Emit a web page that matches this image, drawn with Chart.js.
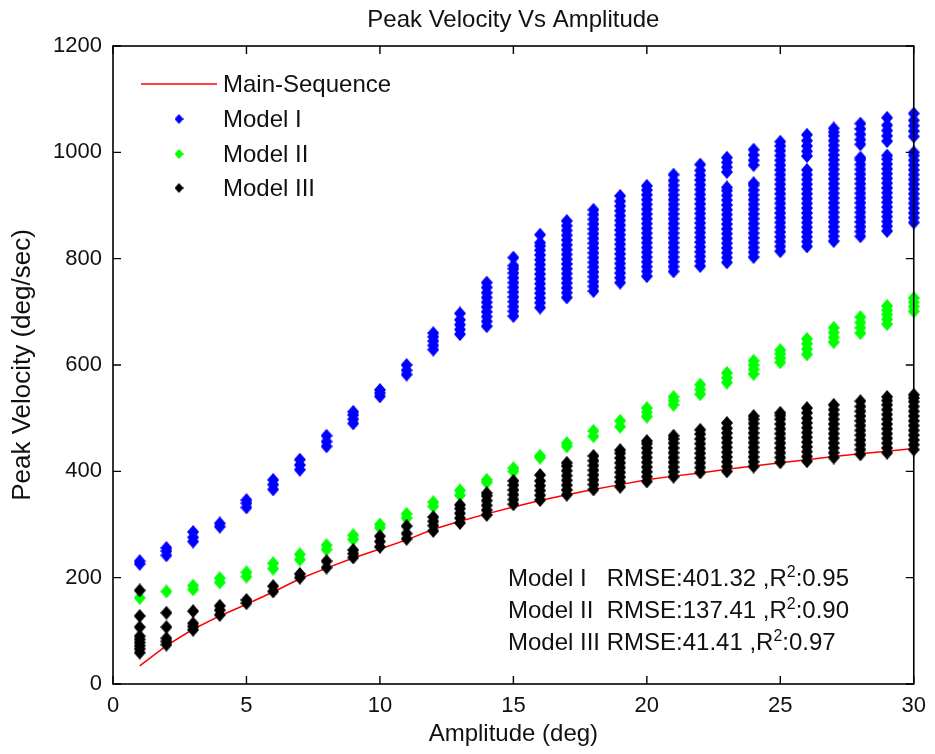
<!DOCTYPE html>
<html><head><meta charset="utf-8">
<script src="https://cdn.jsdelivr.net/npm/chart.js@4.4.1/dist/chart.umd.min.js"></script>
<style>html,body{margin:0;padding:0;background:#fff}#wrap{width:935px;height:754px}</style>
</head><body><div id="wrap"><canvas id="c" width="935" height="754"></canvas></div>
<script>
// ---- data ----
const amplitude = [1,2,3,4,5,6,7,8,9,10,11,12,13,14,15,16,17,18,19,20,21,22,23,24,25,26,27,28,29,30];
const mainSequence = [34,72,103,128,150,173,198,218,237,254,271,291,306,320,333,345,356,366,375,384,391,397,404,410,416,422,428,433,438,443];
const modelI = [
  [226,231],
  [242,250,256],
  [268,276,286],
  [296,302],
  [332,340,346],
  [366,375,384],
  [403,412,422],
  [447,456,467],
  [490,498,506,512],
  [541,547,553],
  [582,590,600],
  [629,637,645,653,660],
  [658,667,676,685,697],
  [673,682,691,700,709,718,727,736,746,755],
  [692,701,710,719,728,737,746,755,764,773,781,787,802],
  [708,717,726,735,744,753,762,771,780,789,798,807,816,824,830,845],
  [727,736,745,754,763,772,781,790,799,808,817,826,835,844,853,862,871],
  [739,748,757,766,775,784,793,802,811,820,829,838,847,856,865,874,883,892],
  [755,764,773,782,791,800,809,818,827,836,845,854,863,872,881,890,899,908,918],
  [767,776,785,794,803,812,821,830,839,848,857,866,875,884,893,902,911,920,929,937],
  [776,785,794,803,812,821,830,839,848,857,866,875,884,893,902,911,920,929,938,947,958],
  [786,795,804,813,822,831,840,849,858,867,876,885,894,903,912,921,930,939,948,957,966,977],
  [793,802,811,820,829,838,847,856,865,874,883,892,901,910,919,928,934,963,972,981,990],
  [803,812,821,830,839,848,857,866,875,884,893,902,911,920,929,938,942,976,985,995,1005],
  [814,823,832,841,850,859,868,877,886,895,904,913,922,931,940,949,958,967,976,985,994,1003,1012,1020],
  [823,832,841,850,859,868,877,886,895,904,913,922,931,940,949,958,967,993,1002,1012,1022,1033],
  [833,842,851,860,869,878,887,896,905,914,923,932,941,950,959,968,977,986,995,1004,1013,1022,1031,1038,1045],
  [842,851,860,869,878,887,896,905,914,923,932,941,950,959,968,977,986,990,1015,1024,1034,1044,1054],
  [852,861,870,879,888,897,906,915,924,933,942,951,960,969,978,987,994,1021,1031,1041,1051,1065],
  [868,877,886,895,904,913,922,931,940,949,958,967,976,985,994,1000,1030,1040,1050,1060,1073]
];
const modelII = [
  [162],[174],[178,185],[191,199],[202,210],[217,227],[234,244],[253,261],[272,280],[294,300],
  [312,320],[334,342],[355,364],[379,384],[400,406],[426,429],[447,453],[466,476],[484,495],[503,511,519],
  [525,533,540],[545,554,563],[567,576,585],[583,592,600,608],[605,613,621,628],[620,630,640,649],
  [643,652,661,670],[660,670,680,690],[677,686,695,703,711],[701,710,718,726]
];
const modelIII = [
  [176,128,107,90,84,78,72,66,59],
  [134,107,86,80,74],
  [137,114,108,102],
  [147,139,130],
  [152,158],
  [174,184],
  [200,207],
  [219,231],
  [238,245,252],
  [258,268,278],
  [273,283,297],
  [288,298,306,314],
  [303,312,321,330,337],
  [318,327,336,345,354,359],
  [338,347,356,365,374,382],
  [346,355,364,373,382,393],
  [356,365,374,383,392,401,410,416],
  [366,375,384,393,402,411,420,429],
  [371,380,389,398,407,416,425,434,440],
  [381,390,399,408,417,426,435,444,452,457],
  [390,399,408,417,426,435,444,453,461,467],
  [398,407,416,425,434,443,452,461,470,478],
  [400,409,418,427,436,445,454,463,472,481,491],
  [409,418,427,436,445,454,463,472,481,490,498,504],
  [417,426,435,444,453,462,471,480,489,498,505,510],
  [419,428,437,446,455,464,473,482,491,500,510,519],
  [426,435,444,453,462,471,480,489,498,507,516,525],
  [432,441,450,459,468,477,486,495,504,513,522,532],
  [435,444,453,462,471,480,489,498,507,516,525,533,540],
  [441,450,459,468,477,486,495,504,513,522,531,538,544]
];
const seriesNames = ['Main-Sequence','Model I','Model II','Model III'];
const statModels = ['Model I   ','Model II  ','Model III '];
const statRmse = ['401.32','137.41','41.41'];
const statR2 = ['0.95','0.90','0.97'];

// ---- build ----
const FONT = "'Liberation Sans', Arial, Helvetica, sans-serif";
const toPoints = arr => arr.flatMap((vals, i) => vals.map(v => ({x: amplitude[i], y: v})));
function diamond(color, w, h) {
  const c = document.createElement('canvas');
  c.width = w; c.height = h;
  const g = c.getContext('2d');
  g.fillStyle = color;
  g.beginPath();
  g.moveTo(w / 2, 0); g.lineTo(w, h / 2); g.lineTo(w / 2, h); g.lineTo(0, h / 2);
  g.closePath(); g.fill();
  return c;
}
const mk = (label, arr, color, order) => ({
  type: 'scatter', label, data: toPoints(arr), order, clip: false,
  pointStyle: diamond(color, 12, 14), pointRadius: 6, pointHoverRadius: 6,
  backgroundColor: color, borderColor: color, borderWidth: 0
});

const framePlugin = {
  id: 'frame',
  afterDatasetsDraw(chart) {
    const {ctx, chartArea: a, scales: {x, y}} = chart;
    ctx.save();
    ctx.strokeStyle = '#000';
    ctx.lineWidth = 1.6;
    ctx.strokeRect(a.left, a.top, a.right - a.left, a.bottom - a.top);
    const L = 8;
    ctx.lineWidth = 1.4;
    ctx.beginPath();
    x.ticks.forEach(t => {
      const px = x.getPixelForValue(t.value);
      ctx.moveTo(px, a.bottom); ctx.lineTo(px, a.bottom - L);
      ctx.moveTo(px, a.top); ctx.lineTo(px, a.top + L);
    });
    y.ticks.forEach(t => {
      const py = y.getPixelForValue(t.value);
      ctx.moveTo(a.left, py); ctx.lineTo(a.left + L, py);
      ctx.moveTo(a.right, py); ctx.lineTo(a.right - L, py);
    });
    ctx.stroke();
    ctx.restore();
  },
  afterDraw(chart) {
    const {ctx, chartArea: a} = chart;
    ctx.save();
    ctx.fillStyle = '#111';
    ctx.font = '24px ' + FONT;
    ctx.textBaseline = 'middle';
    // legend
    const rows = [84, 119, 154, 188];
    const textX = a.left + 110;
    chart.data.datasets.forEach((ds, i) => {
      const yy = rows[i];
      if (ds.type === 'line') {
        ctx.strokeStyle = ds.borderColor; ctx.lineWidth = 1.5;
        ctx.beginPath(); ctx.moveTo(a.left + 28, yy); ctx.lineTo(a.left + 104, yy); ctx.stroke();
      } else {
        const m = diamond(ds.backgroundColor, 9, 10);
        Chart.helpers.drawPoint(ctx, {pointStyle: m, radius: 5, borderWidth: 0}, a.left + 66, yy);
      }
      ctx.fillStyle = '#111';
      ctx.fillText(ds.label, textX, yy + 1);
    });
    // fit statistics
    ctx.textBaseline = 'alphabetic';
    const baselines = [586, 618, 650];
    statModels.forEach((m, i) => {
      let xx = 508;
      const yy = baselines[i];
      ctx.font = '24px ' + FONT;
      const s1 = m + 'RMSE:' + statRmse[i] + ' ,R';
      ctx.fillText(s1, xx, yy); xx += ctx.measureText(s1).width;
      ctx.font = '16px ' + FONT;
      ctx.fillText('2', xx, yy - 9); xx += ctx.measureText('2').width;
      ctx.font = '24px ' + FONT;
      ctx.fillText(':' + statR2[i], xx, yy);
    });
    ctx.restore();
  }
};

new Chart(document.getElementById('c'), {
  data: {
    datasets: [
      {type: 'line', label: seriesNames[0], data: amplitude.map((a, i) => ({x: a, y: mainSequence[i]})),
       borderColor: '#ff0000', backgroundColor: '#ff0000', borderWidth: 1.5, pointRadius: 0, fill: false, tension: 0, order: 4},
      mk(seriesNames[1], modelI, '#0000ff', 3),
      mk(seriesNames[2], modelII, '#00ff00', 2),
      mk(seriesNames[3], modelIII, '#000000', 1)
    ]
  },
  options: {
    responsive: false, animation: false, devicePixelRatio: 1,
    layout: {padding: {left: 0, right: 15, top: 0, bottom: 0}},
    plugins: {
      legend: {display: false},
      tooltip: {enabled: false},
      title: {display: true, fullSize: false, text: 'Peak Velocity Vs Amplitude', color: '#111',
              font: {family: FONT, size: 24, weight: 'normal'}, padding: {top: 6, bottom: 11.2}}
    },
    scales: {
      x: {type: 'linear', position: 'bottom', min: 0, max: 30,
          ticks: {stepSize: 5, color: '#111', font: {family: FONT, size: 22}, padding: 9, maxRotation: 0,
                  callback: v => String(v)},
          grid: {display: false, drawTicks: false}, border: {display: false},
          title: {display: true, text: 'Amplitude (deg)', color: '#111', font: {family: FONT, size: 24}, padding: {top: 0, bottom: 5}},
          afterFit(s) { s.height = 70; }},
      y: {type: 'linear', position: 'left', min: 0, max: 1200,
          ticks: {stepSize: 200, color: '#111', font: {family: FONT, size: 22}, padding: 11,
                  callback: v => String(v)},
          grid: {display: false, drawTicks: false}, border: {display: false},
          title: {display: true, text: 'Peak Velocity (deg/sec)', color: '#111', font: {family: FONT, size: 26}, padding: {top: 7, bottom: 0}},
          afterFit(s) { s.width = 113; }}
    }
  },
  plugins: [framePlugin]
});
</script></body></html>
